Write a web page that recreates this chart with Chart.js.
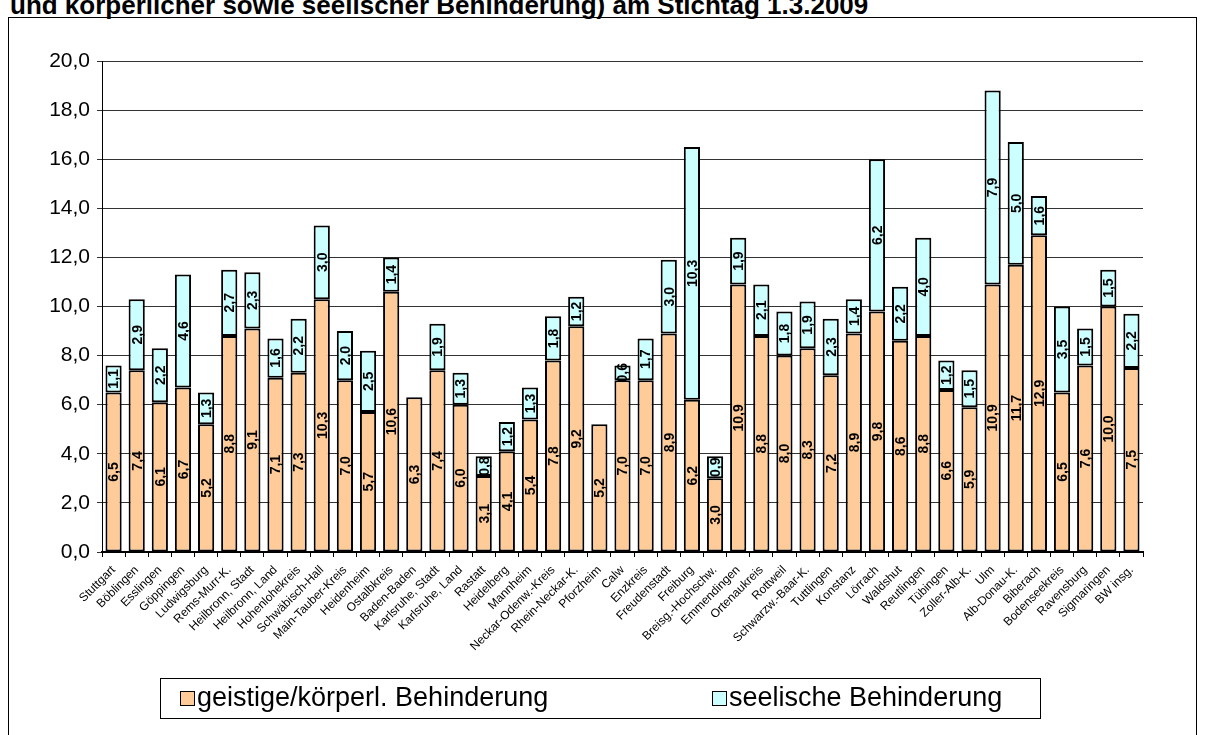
<!DOCTYPE html>
<html>
<head>
<meta charset="utf-8">
<script src="https://cdn.jsdelivr.net/npm/chart.js@4.4.0/dist/chart.umd.min.js"></script>
<style>
  html, body { margin: 0; padding: 0; background: #fff; width: 1208px; height: 735px; overflow: hidden; }
  #frame { position: absolute; left: 8px; top: 17px; width: 1187px; height: 800px; border: 1px solid #000; }
  #title { position: absolute; left: 10px; top: -8px; font: bold 26px "Liberation Sans", Arial, sans-serif; line-height: 26px; white-space: nowrap; color: #000; }
  #wrap { position: absolute; left: 0; top: 0; width: 1208px; height: 735px; }
</style>
</head>
<body>
<div id="frame"></div>
<div id="title">und körperlicher sowie seelischer Behinderung) am Stichtag 1.3.2009</div>
<div id="wrap"><canvas id="chart" width="1208" height="735"></canvas></div>
<script>
// Kreise / Stadtkreise
const categories = [
  'Stuttgart', 'Böblingen', 'Esslingen', 'Göppingen', 'Ludwigsburg', 'Rems-Murr-K.',
  'Heilbronn, Stadt', 'Heilbronn, Land', 'Hohenlohekreis', 'Schwäbisch-Hall', 'Main-Tauber-Kreis',
  'Heidenheim', 'Ostalbkreis', 'Baden-Baden', 'Karlsruhe, Stadt', 'Karlsruhe, Land', 'Rastatt',
  'Heidelberg', 'Mannheim', 'Neckar-Odenw.-Kreis', 'Rhein-Neckar-K.', 'Pforzheim', 'Calw',
  'Enzkreis', 'Freudenstadt', 'Freiburg', 'Breisg.-Hochschw.', 'Emmendingen', 'Ortenaukreis',
  'Rottweil', 'Schwarzw.-Baar-K.', 'Tuttlingen', 'Konstanz', 'Lörrach', 'Waldshut', 'Reutlingen',
  'Tübingen', 'Zoller-Alb-K.', 'Ulm', 'Alb-Donau-K.', 'Biberach', 'Bodenseekreis', 'Ravensburg',
  'Sigmaringen', 'BW insg.'
];

// geistige/körperliche Behinderung
const geistig = [
  6.5, 7.4, 6.1, 6.7, 5.2, 8.8, 9.1, 7.1, 7.3, 10.3, 7.0, 5.7, 10.6, 6.3, 7.4, 6.0, 3.1,
  4.1, 5.4, 7.8, 9.2, 5.2, 7.0, 7.0, 8.9, 6.2, 3.0, 10.9, 8.8, 8.0, 8.3, 7.2, 8.9, 9.8,
  8.6, 8.8, 6.6, 5.9, 10.9, 11.7, 12.9, 6.5, 7.6, 10.0, 7.5
];

// seelische Behinderung (0 = kein Wert)
const seelisch = [
  1.1, 2.9, 2.2, 4.6, 1.3, 2.7, 2.3, 1.6, 2.2, 3.0, 2.0, 2.5, 1.4, 0, 1.9, 1.3, 0.8,
  1.2, 1.3, 1.8, 1.2, 0, 0.6, 1.7, 3.0, 10.3, 0.9, 1.9, 2.1, 1.8, 1.9, 2.3, 1.4, 6.2,
  2.2, 4.0, 1.2, 1.5, 7.9, 5.0, 1.6, 3.5, 1.5, 1.5, 2.2
];

const yMin = 0, yMax = 20, yStep = 2;

const FONT = '"Liberation Sans", Arial, sans-serif';
const fmt = v => v.toFixed(1).replace('.', ',');

// Werte senkrecht in die Balken schreiben
const barLabels = {
  id: 'barLabels',
  afterDatasetsDraw(chart) {
    const ctx = chart.ctx;
    ctx.save();
    ctx.font = 'bold 14px ' + FONT;
    ctx.fillStyle = '#000';
    ctx.textAlign = 'center';
    ctx.textBaseline = 'middle';
    chart.data.datasets.forEach((ds, i) => {
      chart.getDatasetMeta(i).data.forEach((bar, j) => {
        const v = ds.data[j];
        if (!v) return;
        ctx.save();
        ctx.translate(bar.x, (bar.y + bar.base) / 2);
        ctx.rotate(-Math.PI / 2);
        ctx.fillText(fmt(v), 0, 1);
        ctx.restore();
      });
    });
    ctx.restore();
  }
};

// Legende im Kasten unten
const boxLegend = {
  id: 'boxLegend',
  afterDraw(chart) {
    const ctx = chart.ctx;
    ctx.save();
    ctx.strokeStyle = '#000';
    ctx.lineWidth = 1;
    ctx.strokeRect(160.5, 678.5, 880, 40);
    ctx.font = '27px ' + FONT;
    ctx.textBaseline = 'middle';
    const starts = [180, 712];
    chart.data.datasets.forEach((ds, i) => {
      const x = starts[i];
      ctx.fillStyle = ds.backgroundColor;
      ctx.fillRect(x, 691, 15, 15);
      ctx.strokeRect(x + 0.5, 691.5, 14, 14);
      ctx.fillStyle = '#000';
      ctx.fillText(ds.label, x + 17, 699);
    });
    ctx.restore();
  }
};

new Chart(document.getElementById('chart').getContext('2d'), {
  type: 'bar',
  data: {
    labels: categories,
    datasets: [
      {
        label: 'geistige/körperl. Behinderung',
        data: geistig,
        backgroundColor: '#FFCC99',
        borderColor: '#000',
        borderWidth: 2,
        borderSkipped: false
      },
      {
        label: 'seelische Behinderung',
        data: seelisch,
        backgroundColor: '#CCFFFF',
        borderColor: '#000',
        borderWidth: 2,
        borderSkipped: false
      }
    ]
  },
  options: {
    responsive: false,
    animation: false,
    devicePixelRatio: 1,
    layout: { padding: { left: 0, top: 61, right: 65, bottom: 0 } },
    datasets: { bar: { categoryPercentage: 1.0, barPercentage: 0.7 } },
    plugins: {
      legend: { display: false },
      title: { display: false },
      tooltip: { enabled: false }
    },
    scales: {
      x: {
        stacked: true,
        grid: { display: true, drawOnChartArea: false, drawTicks: true, tickLength: 5, color: '#000', offset: true },
        border: { display: true, color: '#000', width: 2 },
        ticks: { autoSkip: false, maxRotation: 45, minRotation: 45, padding: 6, color: '#000', font: { family: FONT, size: 12 } },
        afterFit(scale) { scale.height = 183; }
      },
      y: {
        stacked: true,
        min: yMin,
        max: yMax,
        ticks: { stepSize: yStep, padding: 7, color: '#000', font: { family: FONT, size: 21 }, callback: v => fmt(v) },
        grid: { color: '#333', lineWidth: 1, drawTicks: true, tickLength: 5 },
        border: { display: true, color: '#000', width: 1 },
        afterFit(scale) { scale.width = 102; }
      }
    }
  },
  plugins: [barLabels, boxLegend]
});
</script>
</body>
</html>
